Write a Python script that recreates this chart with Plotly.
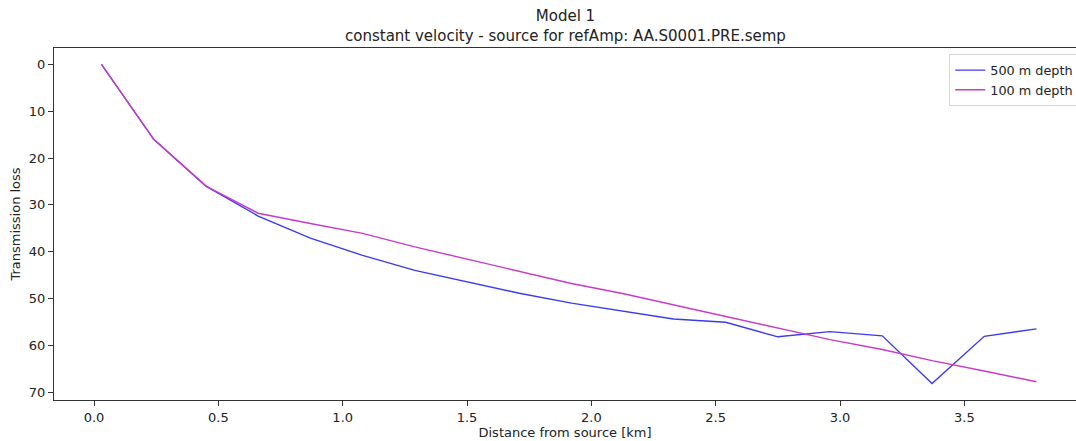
import plotly.graph_objects as go

# Receiver distances from the source [km]
distance_km = [0.03, 0.24, 0.45, 0.66, 0.87, 1.08, 1.29, 1.50, 1.71, 1.92,
               2.13, 2.33, 2.54, 2.75, 2.96, 3.17, 3.37, 3.58, 3.79]

# Transmission loss along the profile for each source depth
loss_500m = [0.0, 16.0, 26.0, 32.4, 37.1, 40.8, 44.0, 46.5, 48.9, 51.0,
             52.8, 54.4, 55.1, 58.2, 57.1, 58.0, 68.2, 58.1, 56.5]
loss_100m = [0.0, 16.0, 26.0, 31.8, 34.0, 36.1, 39.0, 41.6, 44.3, 46.8,
             49.0, 51.4, 53.8, 56.4, 58.8, 60.9, 63.3, 65.5, 67.8]

series_names = ["500 m depth", "100 m depth"]
x_ticks = [0.0, 0.5, 1.0, 1.5, 2.0, 2.5, 3.0, 3.5]
y_ticks = [0, 10, 20, 30, 40, 50, 60, 70]

font = "DejaVu Sans, Liberation Sans, sans-serif"
axis_color = "#333333"

fig = go.Figure()
fig.add_trace(go.Scatter(x=distance_km, y=loss_500m, mode="lines",
                         name=series_names[0],
                         line=dict(color="#3a3af5", width=1.4)))
fig.add_trace(go.Scatter(x=distance_km, y=loss_100m, mode="lines",
                         name=series_names[1],
                         line=dict(color="#c83ac8", width=1.4)))

fig.update_layout(
    width=1076, height=441,
    margin=dict(l=54, r=0, t=48, b=41, autoexpand=False),
    paper_bgcolor="white", plot_bgcolor="white",
    font=dict(family=font, size=12, color="#222222"),
    showlegend=True,
    legend=dict(x=0.876, y=0.982, xanchor="left", yanchor="top",
                bgcolor="white", bordercolor="#d6d6d6", borderwidth=1,
                font=dict(size=12.8, color="#222222"),
                tracegroupgap=0, itemwidth=30),
)

fig.add_annotation(text="Model 1<br>constant velocity - source for refAmp: AA.S0001.PRE.semp",
                   xref="paper", yref="paper", x=0.5, y=1.0, yshift=1,
                   xanchor="center", yanchor="bottom", showarrow=False,
                   font=dict(family=font, size=15, color="#222222"))

fig.update_xaxes(
    range=[-0.161, 3.949], tickvals=x_ticks,
    ticktext=[f"{v:.1f}" for v in x_ticks],
    ticks="outside", ticklen=5, tickcolor=axis_color, tickwidth=1,
    showline=True, linecolor=axis_color, linewidth=1.2, mirror=True,
    showgrid=False, zeroline=False, automargin=False,
    tickfont=dict(size=13, color="#222222"),
    title=dict(text="Distance from source [km]", standoff=3,
               font=dict(size=13, color="#222222")),
)
fig.update_yaxes(
    range=[71.7, -3.5], tickvals=y_ticks,
    ticks="outside", ticklen=5, tickcolor=axis_color, tickwidth=1,
    showline=True, linecolor=axis_color, linewidth=1.2, mirror=False,
    showgrid=False, zeroline=False, automargin=False,
    tickfont=dict(size=13, color="#222222"),
    title=dict(text="Transmission loss", standoff=5,
               font=dict(size=13, color="#222222")),
)

fig.write_html("out.html")
